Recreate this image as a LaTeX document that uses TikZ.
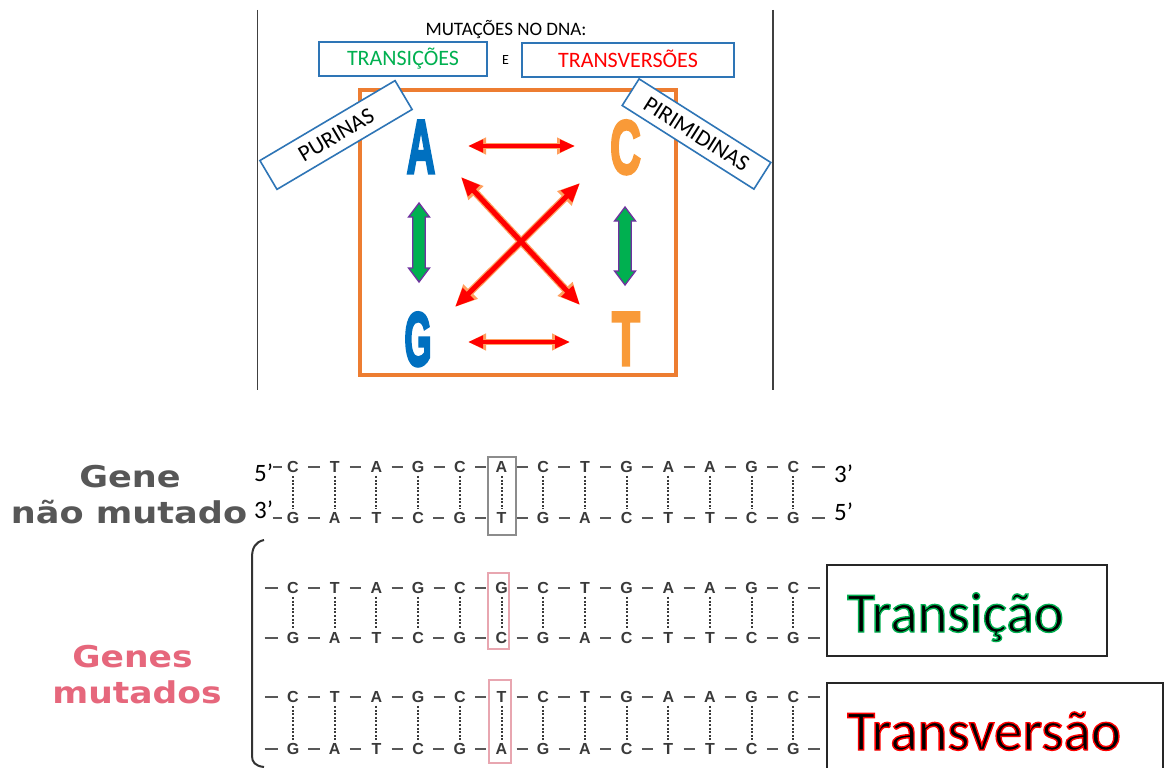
\documentclass[tikz,border=0pt]{standalone}
\usepackage{fontspec}
\setmainfont{Carlito}
\newfontfamily\verd{DejaVu Sans}
\newfontfamily\arialf{Liberation Sans}
\newfontface\impactish{Liberation Sans Bold}[FakeBold=4]
\usetikzlibrary{arrows.meta,calc}
\definecolor{boxblue}{HTML}{2E75B6}
\definecolor{tgreen}{HTML}{00B050}
\definecolor{tred}{HTML}{FF0000}
\definecolor{sqorange}{HTML}{ED7D31}
\definecolor{lblue}{HTML}{0070C0}
\definecolor{lorange}{HTML}{F99A38}
\definecolor{arrgreen}{HTML}{00B050}
\definecolor{arrpurple}{HTML}{7030A0}
\definecolor{glow}{HTML}{FFA060}
\definecolor{dnagray}{HTML}{3A3A3A}
\definecolor{headgray}{HTML}{575757}
\definecolor{headpink}{HTML}{E6677C}
\definecolor{pinkbox}{HTML}{E8A6B0}
\definecolor{graybox}{HTML}{8C8C8C}
% outlined text: black fill, coloured stroke
\newcommand{\outlinetext}[2]{\special{pdf:literal direct 2 Tr 1.4 w #1 RG}#2\special{pdf:literal direct 0 Tr 0.4 w}}
\begin{document}
\begin{tikzpicture}[x=1pt,y=-1pt,
  vline/.style={draw=black!75, line width=1.3pt},
  bluebox/.style={draw=boxblue, line width=1.6pt, fill=white, inner sep=0pt},
  sqstyle/.style={draw=sqorange, line width=3.2pt},
  bigletter/.style={font=\impactish\fontsize{76}{76}\selectfont, inner sep=0pt, anchor=base},
  redglow/.style={draw=glow, line width=6.5pt, {Triangle[length=18pt,width=16pt]}-{Triangle[length=18pt,width=16pt]}},
  redarr/.style={draw=tred, line width=4pt, {Triangle[length=15pt,width=12pt]}-{Triangle[length=15pt,width=12pt]}},
  redglowd/.style={draw=glow, line width=7.5pt, {Triangle[length=22pt,width=19pt]}-{Triangle[length=22pt,width=19pt]}},
  redarrd/.style={draw=tred, line width=5pt, {Triangle[length=19pt,width=15pt]}-{Triangle[length=19pt,width=15pt]}},
  greenarr/.style={fill=arrgreen, draw=arrpurple, line width=1.3pt, line join=miter},
  dnal/.style={font=\arialf\bfseries\fontsize{16}{16}\selectfont, text=dnagray, inner sep=0pt, text height=11.5pt, text depth=0pt, minimum width=12pt},
  dnadash/.style={draw=dnagray!85, line width=1.6pt, shorten >=9pt, shorten <=9pt},
  freedash/.style={draw=dnagray!85, line width=1.6pt},
  hbond/.style={draw=dnagray, line width=2pt, dash pattern=on 2pt off 1.6pt, shorten >=3pt, shorten <=3pt},
  prime/.style={font=\fontsize{25}{25}\selectfont, inner sep=0pt},
  grayhead/.style={font=\verd\bfseries\fontsize{30}{30}\selectfont, text=headgray, xscale=1.17, inner sep=0pt, anchor=base},
  pinkhead/.style={font=\verd\bfseries\fontsize{30}{30}\selectfont, text=headpink, xscale=1.15, inner sep=0pt, anchor=base},
  resbox/.style={draw=black!85, line width=1.3pt}
]
\useasboundingbox (0,0) rectangle (1165,768);
\fill[white] (0,0) rectangle (1165,768);

% ---------- top panel ----------
\draw[vline] (257.5,10) -- (257.5,390);
\draw[vline] (773,10) -- (773,390);

\node[font=\fontsize{19}{19}\selectfont, inner sep=0pt, anchor=base] (title) at (506,35.5) {MUTAÇÕES NO DNA:};
\node[bluebox, minimum width=168pt, minimum height=34pt, text=tgreen,
      font=\fontsize{22}{22}\selectfont, text height=14pt, text depth=0pt] (trs) at (403,59) {TRANSIÇÕES};
\node[font=\fontsize{14}{14}\selectfont, inner sep=0pt, text height=9pt, text depth=0pt] (e) at (505.5,60) {E};
\node[bluebox, minimum width=212pt, minimum height=34pt, text=tred,
      font=\fontsize{22}{22}\selectfont, text height=14pt, text depth=0pt] (trv) at (628,60) {TRANSVERSÕES};

\draw[sqstyle] (360,90) rectangle (676,375);

\node[bluebox, rotate=30.6, minimum width=157pt, minimum height=33.5pt,
      font=\fontsize{23}{23}\selectfont, text height=15pt, text depth=0pt] (pur) at (336,135) {PURINAS};
\node[bluebox, rotate=-32.4, minimum width=156pt, minimum height=31.5pt,
      font=\fontsize{23}{23}\selectfont, text height=15pt, text depth=0pt] (pir) at (696.5,134) {PIRIMIDINAS};

\node[bigletter, text=lblue, xscale=0.52] (A) at (421,173) {A};
\node[bigletter, text=lorange, xscale=0.56] (C) at (625.5,173.5) {C};
\node[bigletter, text=lblue, xscale=0.46] (G) at (418,365.5) {G};
\node[bigletter, text=lorange, xscale=0.6] (T) at (626,365) {T};

% red arrows
\coordinate (h1a) at (468,146); \coordinate (h1b) at (575,146);
\coordinate (h2a) at (468,342); \coordinate (h2b) at (570,342);
\coordinate (d1a) at (461,177); \coordinate (d1b) at (580,305);
\coordinate (d2a) at (580,183); \coordinate (d2b) at (455,307);
\draw[redglow] (h1a) -- (h1b); \draw[redarr] (h1a) -- (h1b);
\draw[redglow] (h2a) -- (h2b); \draw[redarr] (h2a) -- (h2b);
\draw[redglowd] (d1a) -- (d1b);
\draw[redglowd] (d2a) -- (d2b);
\draw[redarrd] (d1a) -- (d1b);
\draw[redarrd] (d2a) -- (d2b);

% green arrows
\coordinate (gl) at (419,203);
\coordinate (gr) at (625,207);
\draw[greenarr] (gl) -- ++(10.5,14) -- ++(-4.25,0) -- ++(0,51) -- ++(4.25,0) -- ++(-10.5,14)
  -- ++(-10.5,-14) -- ++(4.25,0) -- ++(0,-51) -- ++(-4.25,0) -- cycle;
\draw[greenarr] (gr) -- ++(10.5,14) -- ++(-4.25,0) -- ++(0,50) -- ++(4.25,0) -- ++(-10.5,14)
  -- ++(-10.5,-14) -- ++(4.25,0) -- ++(0,-50) -- ++(-4.25,0) -- cycle;

% ---------- bottom panel ----------
\node[grayhead] (gene) at (130,487) {Gene};
\node[grayhead] (naomut) at (129,523) {não mutado};
\node[pinkhead] (genes) at (132.5,667) {Genes};
\node[pinkhead] (mutados) at (137,703) {mutados};

\draw[draw=black!80, line width=2pt] (264,540) .. controls (255,542) and (252,548) .. (252,558)
  -- (252,756) .. controls (252,762) and (255,766) .. (264,767);

% highlight boxes
\draw[draw=graybox, line width=1.3pt] (488,457) rectangle (516,535);
\draw[draw=pinkbox, line width=1.3pt] (488,573) rectangle (509,649);
\draw[draw=pinkbox, line width=1.3pt] (489,680) rectangle (511,763);

% strands
\foreach \L [count=\i from 0] in {C,T,A,G,C,A,C,T,G,A,A,G,C}
  \node[dnal] (ta\i) at (293+41.7*\i,467) {\L};
\foreach \L [count=\i from 0] in {G,A,T,C,G,T,G,A,C,T,T,C,G}
  \node[dnal] (ba\i) at (293+41.7*\i,518) {\L};
\foreach \L [count=\i from 0] in {C,T,A,G,C,G,C,T,G,A,A,G,C}
  \node[dnal] (tb\i) at (293+41.7*\i,588) {\L};
\foreach \L [count=\i from 0] in {G,A,T,C,G,C,G,A,C,T,T,C,G}
  \node[dnal] (bb\i) at (293+41.7*\i,638) {\L};
\foreach \L [count=\i from 0] in {C,T,A,G,C,T,C,T,G,A,A,G,C}
  \node[dnal] (tc\i) at (293+41.7*\i,697) {\L};
\foreach \L [count=\i from 0] in {G,A,T,C,G,A,G,A,C,T,T,C,G}
  \node[dnal] (bc\i) at (293+41.7*\i,749) {\L};

\foreach \r in {ta,ba,tb,bb,tc,bc}{
  \foreach \i in {0,...,11}{
    \pgfmathtruncatemacro\j{\i+1}
    \draw[dnadash] (\r\i) -- (\r\j);
  }
}
\foreach \t/\b in {ta/ba,tb/bb,tc/bc}{
  \foreach \i in {0,...,12}{
    \draw[hbond] (\t\i) -- (\b\i);
  }
}
% free-end dashes
\foreach \r in {ta,ba}{
  \draw[freedash] ($(\r0.west)+(-14,0)$) -- ($(\r0.west)+(-5,0)$);
  \draw[freedash] ($(\r12.east)+(12,0)$) -- ($(\r12.east)+(25,0)$);
}
\foreach \r in {tb,bb,tc,bc}{
  \draw[freedash] ($(\r0.west)+(-22,0)$) -- ($(\r0.west)+(-9,0)$);
  \draw[freedash] ($(\r12.east)+(8,0)$) -- ($(\r12.east)+(20,0)$);
}

\node[prime, anchor=base west] (p5l) at (254,481) {5’};
\node[prime, anchor=base west] (p3l) at (254,518) {3’};
\node[prime, anchor=base west] (p3r) at (834,482) {3’};
\node[prime, anchor=base west] (p5r) at (834,520) {5’};

% result boxes
\draw[resbox] (827,565) rectangle (1107,656);
\draw[resbox] (827,683) rectangle (1163,790);
\node[font=\fontsize{57}{57}\selectfont, inner sep=0pt, anchor=base west, text=black] (trsn) at (847,632) {\outlinetext{0 0.69 0.314}{Transição}};
\node[font=\fontsize{57}{57}\selectfont, inner sep=0pt, anchor=base west, text=black] (trvn) at (847,750) {\outlinetext{1 0 0}{Transversão}};
\end{tikzpicture}
\end{document}
